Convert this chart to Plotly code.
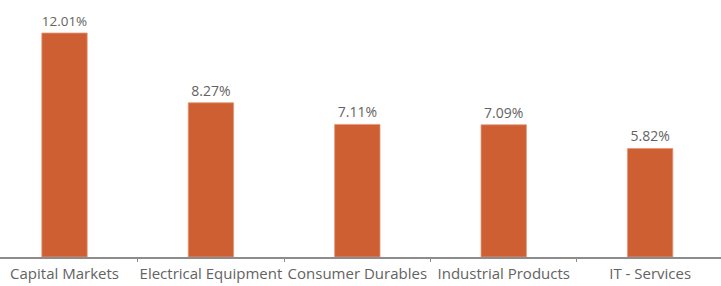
import plotly.graph_objects as go

categories = ["Capital Markets", "Electrical Equipment", "Consumer Durables", "Industrial Products", "IT - Services"]
values = [12.01, 8.27, 7.11, 7.09, 5.82]
labels = [f"{v:.2f}%" for v in values]

fig = go.Figure(go.Bar(
    x=categories, y=values, text=labels, textposition="outside",
    textfont=dict(family="Open Sans", size=14, color="#636363"),
    marker=dict(color="#CD5F32", line=dict(color="#E39A7A", width=0.8)),
    width=0.31, cliponaxis=False,
))
fig.update_layout(
    width=721, height=286, margin=dict(l=0, r=0, t=0, b=29, autoexpand=False),
    paper_bgcolor="white", plot_bgcolor="white", showlegend=False,
    font=dict(family="Open Sans", size=14, color="#636363"),
)
fig.update_xaxes(range=[-0.4406, 4.484], showline=True, linecolor="#8C8C8C", linewidth=2,
                 ticks="outside", tickson="boundaries", ticklen=3, tickcolor="#8C8C8C",
                 tickangle=0, ticklabelstandoff=2,
                 tickfont=dict(family="Open Sans", size=15, color="#636363"),
                 showgrid=False, automargin=False)
fig.update_yaxes(range=[0, 13.78], visible=False, showgrid=False, automargin=False)
fig.write_html("out.html", config={"displayModeBar": False},
               post_script="document.body.style.margin='0';document.body.style.overflow='hidden';")
